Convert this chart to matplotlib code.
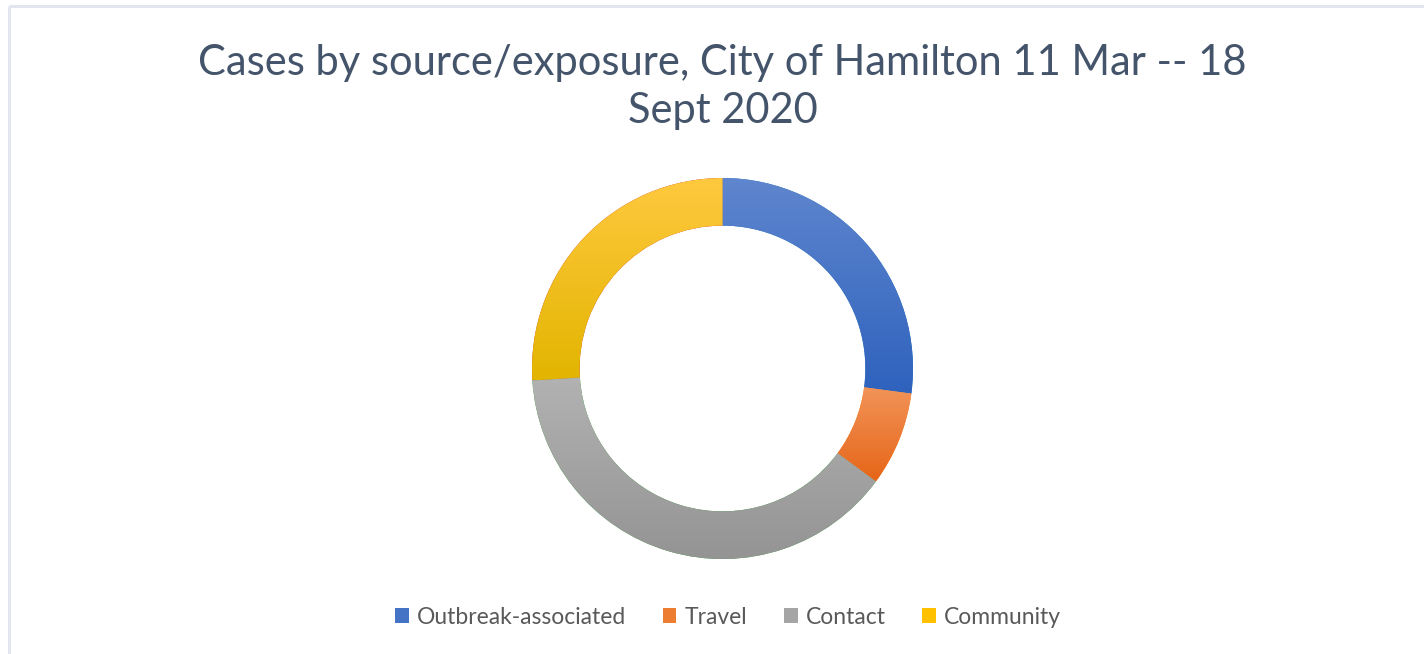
import matplotlib
matplotlib.use("Agg")
import matplotlib.pyplot as plt
import numpy as np
from matplotlib.colors import LinearSegmentedColormap
from matplotlib.patches import Patch

plt.rcParams["font.family"] = ["Lato", "DejaVu Sans"]

# shares of cases (%), read from the ring
categories = ["Outbreak-associated", "Travel", "Contact", "Community"]
shares = [27.1, 8.0, 38.9, 26.0]
title = "Cases by source/exposure, City of Hamilton 11 Mar -- 18\nSept 2020"

# gradient colours per slice (top, bottom)
grad_colors = [
    ("#5F86CE", "#2E62BD"),
    ("#F29459", "#E66518"),
    ("#B2B2B2", "#949494"),
    ("#FFC93F", "#E2B500"),
]
legend_colors = ["#4472C4", "#ED7D31", "#A5A5A5", "#FFC000"]

W, H = 1424, 654
fig = plt.figure(figsize=(W / 100, H / 100), dpi=100)
fig.patch.set_facecolor("white")

# light frame at top and left
frame = fig.add_axes([0, 0, 1, 1])
frame.set_xlim(0, W)
frame.set_ylim(H, 0)
frame.axis("off")
frame.plot([9, W], [6, 6], color="#E3E6EE", lw=2.2, solid_capstyle="butt")
frame.plot([9, 9], [6, H], color="#E3E6EE", lw=2.2, solid_capstyle="butt")

cx, cy, r, half = 722.5, 368.5, 190.5, 200
ax = fig.add_axes([(cx - half) / W, (H - cy - half) / H, 2 * half / W, 2 * half / H])
wedges, _ = ax.pie(
    shares,
    radius=r,
    startangle=90,
    counterclock=False,
    wedgeprops=dict(width=r * 0.25, linewidth=0),
)
grad = np.linspace(1, 0, 256).reshape(-1, 1)
for w, (top, bottom) in zip(wedges, grad_colors):
    x0, y0, x1, y1 = w.get_path().get_extents().extents
    cmap = LinearSegmentedColormap.from_list("g", [bottom, top])
    im = ax.imshow(grad, cmap=cmap, extent=[x0, x1, y0, y1], aspect="auto",
                   origin="upper", interpolation="bilinear", zorder=2)
    im.set_clip_path(w)
ax.set_xlim(-half, half)
ax.set_ylim(-half, half)
ax.set_aspect("auto")
ax.axis("off")

fig.text(cx / W, 1 - 87 / H, title, ha="center", va="center", fontsize=30,
         color="#44546A", linespacing=1.35)

handles = [Patch(facecolor=c, edgecolor="none") for c in legend_colors]
fig.legend(handles, categories, loc="center", bbox_to_anchor=(728 / W, 1 - 617 / H),
           ncol=4, frameon=False, fontsize=16.5, handlelength=0.6, handleheight=0.6,
           handletextpad=0.35, columnspacing=1.6, labelcolor="#595959")

fig.savefig("out.png", dpi=100)
